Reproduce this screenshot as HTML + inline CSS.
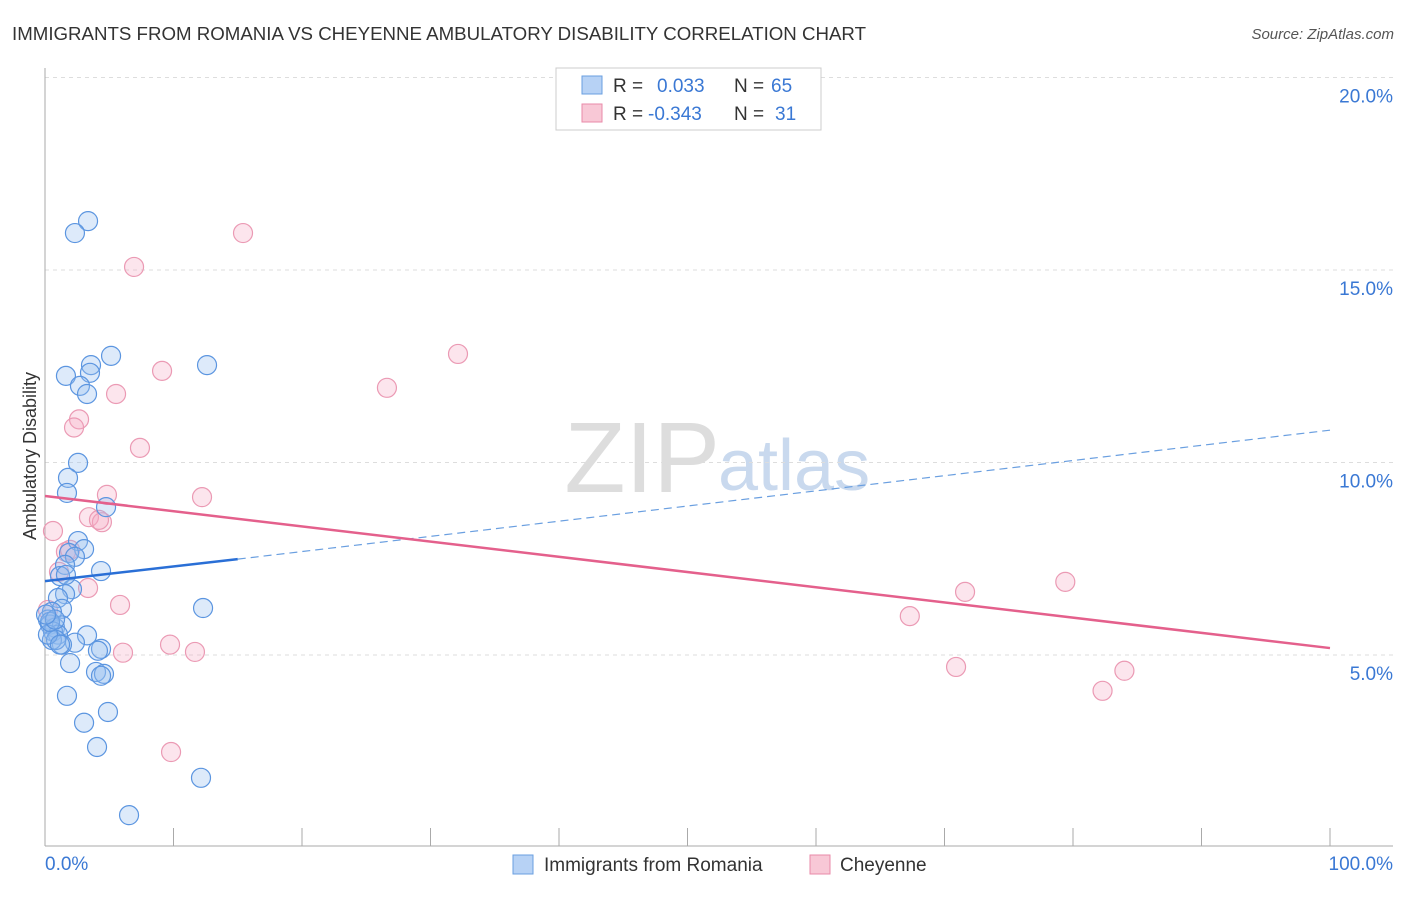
<!DOCTYPE html>
<html><head><meta charset="utf-8"><style>
body{margin:0;background:#fff;font-family:"Liberation Sans",sans-serif;}
svg text{font-family:"Liberation Sans",sans-serif;}
</style></head><body>
<svg id="c" width="1406" height="892" xmlns="http://www.w3.org/2000/svg">
<text x="12" y="40" font-size="18" fill="#333" textLength="854" lengthAdjust="spacingAndGlyphs">IMMIGRANTS FROM ROMANIA VS CHEYENNE AMBULATORY DISABILITY CORRELATION CHART</text>
<text x="1394" y="39" font-size="15" fill="#555" font-style="italic" text-anchor="end">Source: ZipAtlas.com</text>
<text x="36" y="456" font-size="18" fill="#333" transform="rotate(-90 36 456)" text-anchor="middle">Ambulatory Disability</text>
<text x="720" y="492" font-size="100" fill="#ddd" text-anchor="end" font-family="Liberation Serif">ZIP</text>
<text x="718" y="490" font-size="72" fill="#c9d9ee">atlas</text>
<g id="grid"></g><g id="axes"></g><g id="pts"></g><g id="lines"></g>
<g>
<rect x="556" y="68" width="265" height="62" fill="#fff" stroke="#ccc"/>
<rect x="582" y="76" width="20" height="18" fill="#b7d2f5" stroke="#6a9fe0"/>
<text x="613" y="92" font-size="19" fill="#333">R = </text><text x="657" y="92" font-size="19" fill="#3a78d4">0.033</text>
<text x="734" y="92" font-size="19" fill="#333">N = </text><text x="771" y="92" font-size="19" fill="#3a78d4">65</text>
<rect x="582" y="104" width="20" height="18" fill="#f8c8d6" stroke="#e98aa8"/>
<text x="613" y="120" font-size="19" fill="#333">R = </text><text x="648" y="120" font-size="19" fill="#3a78d4">-0.343</text>
<text x="734" y="120" font-size="19" fill="#333">N = </text><text x="775" y="120" font-size="19" fill="#3a78d4">31</text>
</g>
<g>
<rect x="513" y="855" width="20" height="19" fill="#b7d2f5" stroke="#6a9fe0"/>
<text x="544" y="871" font-size="19" fill="#333">Immigrants from Romania</text>
<rect x="810" y="855" width="20" height="19" fill="#f8c8d6" stroke="#e98aa8"/>
<text x="840" y="871" font-size="19" fill="#333">Cheyenne</text>
</g>
</svg>
<script>
const blueX=[3.35,2.33,5.14,3.58,12.61,1.63,3.50,2.72,3.27,2.57,1.79,1.71,4.75,2.57,3.04,1.87,2.33,1.56,4.36,1.17,2.10,1.56,1.01,1.32,0.54,12.30,0.23,0.39,0.78,1.32,0.62,1.01,3.27,2.33,1.32,4.36,4.12,1.95,3.97,4.59,4.36,1.71,4.90,3.04,4.05,12.14,6.54,0.54,0.86,0.23,0.39,1.63,1.17,0.78,0.08];
const blueY=[16.27,15.96,12.77,12.53,12.53,12.25,12.33,11.99,11.78,9.99,9.60,9.21,8.84,7.96,7.75,7.65,7.55,7.34,7.18,7.05,6.71,6.58,6.48,6.20,6.12,6.22,5.92,5.79,5.71,5.77,5.61,5.53,5.51,5.32,5.27,5.16,5.11,4.79,4.56,4.51,4.46,3.94,3.52,3.24,2.61,1.81,0.84,5.39,5.39,5.53,5.86,7.08,5.27,5.92,6.05];
const pinkX=[15.41,6.93,32.14,9.11,26.61,5.53,2.65,2.26,7.39,4.82,12.22,3.42,4.43,0.62,4.20,1.63,1.95,1.09,3.35,5.84,0.23,71.6,79.4,67.3,70.9,84.0,82.3,6.07,9.73,11.67,9.81];
const pinkY=[15.96,15.08,12.82,12.38,11.94,11.78,11.12,10.91,10.38,9.16,9.10,8.58,8.45,8.22,8.51,7.68,7.73,7.16,6.74,6.30,6.17,6.64,6.90,6.01,4.69,4.59,4.07,5.06,5.27,5.08,2.48];
const yTicks=[5,10,15,20];
const xTickLabels=["0.0%","100.0%"];
const blueTrend=[6.92,7.49,10.84];
const pinkTrend=[9.13,5.18];
const X=v=>45+v*12.85, Y=v=>847.5-v*38.5;
const NS="http://www.w3.org/2000/svg";
function mk(t,a,p){const e=document.createElementNS(NS,t);for(const k in a)e.setAttribute(k,a[k]);p.appendChild(e);return e;}
const grid=document.getElementById('grid'),axes=document.getElementById('axes'),pts=document.getElementById('pts'),lines=document.getElementById('lines');
yTicks.forEach(t=>{
 const l=mk('line',{x1:45,x2:1393,y1:Y(t),y2:Y(t),stroke:'#ddd','stroke-dasharray':'4,4'},grid);
 
 
 const tx=mk('text',{x:1393,y:Y(t)+25,'font-size':19,fill:'#3a78d4','text-anchor':'end'},grid);
 tx.textContent=t.toFixed(1)+'%';
 
 
});
const ax=mk('line',{x1:45,x2:1393,y1:846,y2:846,stroke:'#aaa'},axes);


const ay=mk('line',{x1:45,x2:45,y1:68,y2:846,stroke:'#aaa'},axes);


for(let i=0;i<=10;i++){const t=mk('line',{x1:X(i*10),x2:X(i*10),y1:828,y2:846,stroke:'#aaa'},axes);
 
 }
[[0,'start',45],[100,'end',1393]].forEach((d,i)=>{const t=mk('text',{x:d[2],y:870,'font-size':19,fill:'#3a78d4','text-anchor':d[1]},axes);t.textContent=xTickLabels[i];
 
 });
pinkX.forEach((x,i)=>{const c=mk('circle',{cx:X(x),cy:Y(pinkY[i]),r:9.5,fill:'rgba(244,170,195,0.3)',stroke:'#eb9ab4','stroke-width':1.2},pts);
 
 });
blueX.forEach((x,i)=>{const c=mk('circle',{cx:X(x),cy:Y(blueY[i]),r:9.5,fill:'rgba(150,190,240,0.32)',stroke:'#5b95e0','stroke-width':1.2},pts);
 
 });
const b1=mk('line',{x1:X(0),y1:Y(blueTrend[0]),x2:X(15),y2:Y(blueTrend[1]),stroke:'#2a6fd6','stroke-width':2.5},lines);


const b2=mk('line',{x1:X(15),y1:Y(blueTrend[1]),x2:X(100),y2:Y(blueTrend[2]),stroke:'#6a9fe0','stroke-width':1.2,'stroke-dasharray':'8,5'},lines);


const p1=mk('line',{x1:X(0),y1:Y(pinkTrend[0]),x2:X(100),y2:Y(pinkTrend[1]),stroke:'#e4608c','stroke-width':2.5},lines);


</script>
</body></html>
